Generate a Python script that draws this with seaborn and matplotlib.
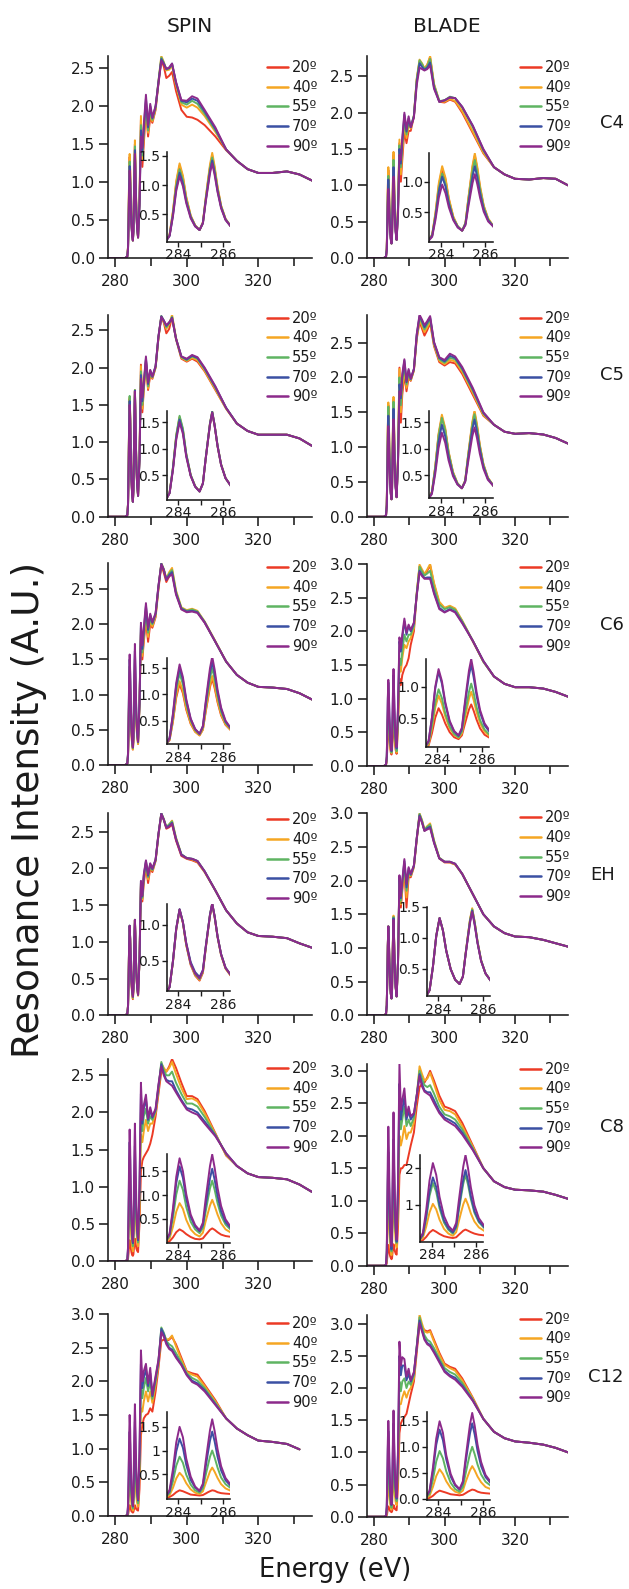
import pandas as pd
import matplotlib
matplotlib.use("Agg")
import matplotlib.pyplot as plt
from matplotlib.lines import Line2D
from matplotlib.ticker import FixedLocator, MultipleLocator, FormatStrFormatter
import seaborn as sns

sns.set_theme(style="ticks")
plt.rcParams["font.family"] = ["DejaVu Sans"]
plt.rcParams["axes.edgecolor"] = "#1a1a1a"
plt.rcParams["text.color"] = "#1a1a1a"
plt.rcParams["xtick.color"] = "#1a1a1a"
plt.rcParams["ytick.color"] = "#1a1a1a"

# ---------------------------------------------------------------- categories
ANGLES = ["20º", "40º", "55º", "70º", "90º"]
ANGLE_COLORS = ["#EC3A25", "#F5A623", "#5FB462", "#3B50A3", "#8C2A8B"]
COLUMNS = ["SPIN", "BLADE"]
SAMPLES = ["C4", "C5", "C6", "EH", "C8", "C12"]

# ---------------------------------------------------------------- energy axis (eV)
ENERGY_PRE = [278.0, 282.8]
ENERGY_PI = [283.4, 283.6, 283.75, 283.9, 284.05, 284.2, 284.35, 284.55, 284.75, 284.95,
             285.1, 285.22, 285.33, 285.42, 285.52, 285.63, 285.76, 285.92, 286.12, 286.4]
ENERGY_SIGMA = [286.8, 287.2, 287.6, 288.0, 288.6, 289.2, 289.8, 290.4, 291.3, 292.1,
                292.9, 293.6, 294.3, 295.1, 295.9, 297.0, 298.5, 300.0, 301.5, 303.0,
                305.0, 308.0, 311.0]
ENERGY_TAIL = [314.0, 317.0, 320.0, 324.0, 328.0, 331.5, 335.0]

# ---------------------------------------------------------------- spectra
# each row: intensity at one ENERGY_PI / ENERGY_SIGMA point for 20º, 40º, 55º, 70º, 90º
SPIN_C4 = [
    (0.02, 0.02, 0.02, 0.02, 0.02), (0.15, 0.15, 0.14, 0.13, 0.13),
    (0.53, 0.55, 0.51, 0.48, 0.46), (1.04, 1.07, 0.99, 0.94, 0.90),
    (1.33, 1.37, 1.27, 1.21, 1.15), (1.13, 1.16, 1.08, 1.03, 0.98),
    (0.78, 0.80, 0.75, 0.72, 0.69), (0.47, 0.48, 0.46, 0.45, 0.43),
    (0.31, 0.31, 0.30, 0.30, 0.29), (0.23, 0.23, 0.23, 0.23, 0.23),
    (0.36, 0.36, 0.35, 0.35, 0.34), (0.74, 0.76, 0.73, 0.71, 0.69),
    (1.06, 1.09, 1.04, 1.00, 0.97), (1.31, 1.35, 1.28, 1.24, 1.20),
    (1.50, 1.55, 1.47, 1.42, 1.37), (1.28, 1.32, 1.25, 1.21, 1.17),
    (0.95, 0.97, 0.93, 0.90, 0.88), (0.64, 0.65, 0.63, 0.62, 0.60),
    (0.42, 0.42, 0.41, 0.41, 0.40), (0.27, 0.27, 0.27, 0.27, 0.27),
    (0.75, 0.78, 0.72, 0.70, 0.68), (1.82, 1.87, 1.75, 1.68, 1.60),
    (1.20, 1.30, 1.35, 1.40, 1.45), (1.50, 1.60, 1.65, 1.70, 1.75),
    (1.95, 2.00, 2.05, 2.10, 2.15), (1.60, 1.65, 1.68, 1.72, 1.75),
    (1.85, 1.90, 1.95, 2.00, 2.03), (1.78, 1.80, 1.82, 1.84, 1.85),
    (1.95, 1.97, 1.98, 2.00, 2.00), (2.30, 2.33, 2.32, 2.32, 2.30),
    (2.60, 2.66, 2.64, 2.62, 2.60), (2.52, 2.58, 2.57, 2.56, 2.55),
    (2.37, 2.47, 2.48, 2.49, 2.49), (2.40, 2.48, 2.50, 2.50, 2.51),
    (2.45, 2.53, 2.55, 2.56, 2.56), (2.20, 2.28, 2.30, 2.31, 2.32),
    (1.95, 2.02, 2.05, 2.07, 2.08), (1.86, 1.98, 2.02, 2.05, 2.07),
    (1.85, 2.02, 2.07, 2.10, 2.13), (1.82, 1.98, 2.03, 2.07, 2.10),
    (1.75, 1.87, 1.90, 1.93, 1.95), (1.60, 1.66, 1.68, 1.70, 1.72),
    (1.42, 1.43, 1.43, 1.43, 1.43),
]
SPIN_C4_TAIL = [1.28, 1.17, 1.12, 1.12, 1.14, 1.10, 1.02]

BLADE_C4 = [
    (0.02, 0.02, 0.02, 0.02, 0.02), (0.13, 0.14, 0.12, 0.12, 0.10),
    (0.48, 0.50, 0.45, 0.43, 0.38), (0.94, 0.98, 0.88, 0.84, 0.74),
    (1.21, 1.25, 1.13, 1.08, 0.95), (1.03, 1.06, 0.96, 0.92, 0.81),
    (0.71, 0.73, 0.67, 0.64, 0.58), (0.42, 0.43, 0.40, 0.39, 0.37),
    (0.27, 0.27, 0.27, 0.26, 0.25), (0.20, 0.20, 0.20, 0.20, 0.20),
    (0.32, 0.33, 0.32, 0.31, 0.29), (0.69, 0.70, 0.66, 0.62, 0.57),
    (0.99, 1.02, 0.95, 0.88, 0.80), (1.24, 1.27, 1.18, 1.09, 0.98),
    (1.42, 1.46, 1.35, 1.25, 1.12), (1.21, 1.24, 1.15, 1.07, 0.96),
    (0.89, 0.92, 0.86, 0.80, 0.73), (0.60, 0.61, 0.58, 0.55, 0.51),
    (0.39, 0.40, 0.38, 0.37, 0.35), (0.25, 0.25, 0.25, 0.25, 0.25),
    (0.70, 0.72, 0.68, 0.65, 0.60), (1.58, 1.63, 1.55, 1.50, 1.42),
    (1.05, 1.15, 1.25, 1.30, 1.35), (1.35, 1.45, 1.55, 1.60, 1.65),
    (1.75, 1.85, 1.92, 1.97, 2.00), (1.58, 1.65, 1.70, 1.74, 1.77),
    (1.75, 1.83, 1.88, 1.92, 1.95), (1.75, 1.78, 1.80, 1.80, 1.80),
    (1.95, 1.96, 1.96, 1.95, 1.93), (2.45, 2.47, 2.45, 2.42, 2.38),
    (2.70, 2.73, 2.72, 2.68, 2.62), (2.66, 2.68, 2.67, 2.63, 2.60),
    (2.60, 2.61, 2.60, 2.59, 2.58), (2.66, 2.66, 2.64, 2.62, 2.60),
    (2.76, 2.78, 2.74, 2.69, 2.65), (2.38, 2.40, 2.38, 2.35, 2.33),
    (2.15, 2.16, 2.16, 2.15, 2.15), (2.14, 2.15, 2.17, 2.17, 2.17),
    (2.18, 2.19, 2.22, 2.21, 2.21), (2.15, 2.16, 2.20, 2.20, 2.20),
    (2.00, 2.02, 2.07, 2.08, 2.08), (1.72, 1.74, 1.80, 1.82, 1.82),
    (1.44, 1.45, 1.48, 1.49, 1.50),
]
BLADE_C4_TAIL = [1.25, 1.15, 1.09, 1.08, 1.10, 1.09, 1.00]

SPIN_C5 = [
    (0.02, 0.02, 0.02, 0.02, 0.02), (0.17, 0.18, 0.18, 0.17, 0.17),
    (0.63, 0.64, 0.65, 0.62, 0.60), (1.23, 1.25, 1.26, 1.21, 1.17),
    (1.58, 1.60, 1.62, 1.55, 1.50), (1.34, 1.36, 1.38, 1.32, 1.28),
    (0.89, 0.90, 0.91, 0.88, 0.85), (0.50, 0.51, 0.51, 0.50, 0.49),
    (0.30, 0.30, 0.30, 0.29, 0.29), (0.20, 0.20, 0.20, 0.20, 0.20),
    (0.35, 0.35, 0.35, 0.35, 0.35), (0.79, 0.80, 0.80, 0.80, 0.79),
    (1.16, 1.18, 1.18, 1.17, 1.16), (1.46, 1.48, 1.48, 1.47, 1.46),
    (1.68, 1.70, 1.70, 1.69, 1.68), (1.43, 1.44, 1.44, 1.44, 1.43),
    (1.05, 1.06, 1.06, 1.06, 1.05), (0.70, 0.71, 0.71, 0.70, 0.70),
    (0.45, 0.45, 0.45, 0.45, 0.45), (0.28, 0.28, 0.28, 0.28, 0.28),
    (0.80, 0.80, 0.78, 0.77, 0.75), (2.04, 2.02, 1.95, 1.90, 1.85),
    (1.40, 1.45, 1.50, 1.55, 1.60), (1.70, 1.72, 1.75, 1.78, 1.80),
    (2.05, 2.08, 2.10, 2.12, 2.15), (1.70, 1.72, 1.75, 1.78, 1.80),
    (1.90, 1.92, 1.95, 1.96, 1.97), (1.85, 1.86, 1.87, 1.88, 1.88),
    (2.00, 2.00, 2.01, 2.02, 2.02), (2.40, 2.40, 2.41, 2.42, 2.42),
    (2.68, 2.69, 2.69, 2.69, 2.68), (2.60, 2.62, 2.63, 2.63, 2.63),
    (2.46, 2.52, 2.54, 2.56, 2.57), (2.52, 2.58, 2.60, 2.60, 2.61),
    (2.68, 2.71, 2.68, 2.67, 2.66), (2.38, 2.40, 2.39, 2.39, 2.39),
    (2.12, 2.13, 2.14, 2.15, 2.15), (2.08, 2.09, 2.10, 2.11, 2.12),
    (2.12, 2.13, 2.15, 2.16, 2.17), (2.08, 2.10, 2.12, 2.13, 2.14),
    (1.95, 1.96, 1.98, 1.99, 2.00), (1.70, 1.71, 1.73, 1.74, 1.75),
    (1.45, 1.45, 1.46, 1.46, 1.46),
]
SPIN_C5_TAIL = [1.25, 1.15, 1.10, 1.10, 1.10, 1.05, 0.95]

BLADE_C5 = [
    (0.02, 0.02, 0.02, 0.02, 0.02), (0.18, 0.18, 0.17, 0.16, 0.14),
    (0.64, 0.66, 0.63, 0.58, 0.52), (1.25, 1.28, 1.23, 1.13, 1.01),
    (1.60, 1.64, 1.58, 1.45, 1.30), (1.36, 1.39, 1.34, 1.23, 1.11),
    (0.93, 0.95, 0.92, 0.85, 0.78), (0.55, 0.56, 0.54, 0.51, 0.48),
    (0.34, 0.35, 0.34, 0.33, 0.32), (0.25, 0.25, 0.25, 0.25, 0.25),
    (0.39, 0.40, 0.39, 0.38, 0.37), (0.82, 0.84, 0.81, 0.77, 0.71),
    (1.18, 1.21, 1.16, 1.10, 1.00), (1.47, 1.50, 1.44, 1.36, 1.23),
    (1.68, 1.72, 1.65, 1.55, 1.40), (1.43, 1.46, 1.40, 1.32, 1.20),
    (1.05, 1.07, 1.03, 0.98, 0.90), (0.70, 0.71, 0.69, 0.66, 0.62),
    (0.45, 0.45, 0.44, 0.43, 0.41), (0.28, 0.28, 0.28, 0.28, 0.28),
    (0.85, 0.85, 0.83, 0.80, 0.78), (2.14, 2.12, 2.00, 1.90, 1.80),
    (1.35, 1.50, 1.60, 1.70, 1.75), (1.75, 1.85, 1.95, 2.00, 2.05),
    (2.05, 2.12, 2.18, 2.24, 2.26), (1.80, 1.85, 1.90, 1.93, 1.95),
    (2.00, 2.05, 2.08, 2.10, 2.12), (1.95, 1.96, 1.97, 1.98, 1.98),
    (2.10, 2.10, 2.11, 2.12, 2.12), (2.55, 2.57, 2.59, 2.61, 2.62),
    (2.80, 2.83, 2.86, 2.88, 2.90), (2.70, 2.74, 2.78, 2.81, 2.83),
    (2.60, 2.65, 2.69, 2.72, 2.75), (2.68, 2.72, 2.76, 2.79, 2.81),
    (2.78, 2.81, 2.84, 2.86, 2.88), (2.45, 2.47, 2.49, 2.50, 2.51),
    (2.22, 2.24, 2.26, 2.28, 2.29), (2.17, 2.19, 2.21, 2.23, 2.25),
    (2.22, 2.25, 2.28, 2.31, 2.34), (2.20, 2.23, 2.26, 2.28, 2.30),
    (2.05, 2.08, 2.11, 2.13, 2.15), (1.75, 1.78, 1.81, 1.83, 1.85),
    (1.45, 1.46, 1.48, 1.49, 1.50),
]
BLADE_C5_TAIL = [1.32, 1.22, 1.19, 1.20, 1.18, 1.13, 1.05]

SPIN_C6 = [
    (0.02, 0.02, 0.02, 0.02, 0.02), (0.13, 0.14, 0.15, 0.17, 0.17),
    (0.48, 0.50, 0.56, 0.60, 0.63), (0.94, 0.98, 1.09, 1.17, 1.22),
    (1.20, 1.25, 1.40, 1.50, 1.57), (1.02, 1.06, 1.19, 1.28, 1.33),
    (0.71, 0.74, 0.82, 0.88, 0.91), (0.44, 0.45, 0.50, 0.53, 0.54),
    (0.29, 0.29, 0.32, 0.34, 0.34), (0.22, 0.22, 0.24, 0.25, 0.25),
    (0.33, 0.33, 0.37, 0.39, 0.40), (0.65, 0.67, 0.74, 0.80, 0.84),
    (0.92, 0.95, 1.06, 1.14, 1.21), (1.14, 1.18, 1.31, 1.41, 1.50),
    (1.30, 1.35, 1.50, 1.62, 1.72), (1.12, 1.16, 1.29, 1.39, 1.47),
    (0.85, 0.88, 0.97, 1.04, 1.09), (0.60, 0.62, 0.67, 0.72, 0.75),
    (0.42, 0.43, 0.46, 0.48, 0.50), (0.30, 0.30, 0.32, 0.33, 0.33),
    (0.85, 0.85, 0.86, 0.87, 0.88), (1.85, 1.88, 1.95, 1.98, 2.02),
    (1.50, 1.55, 1.60, 1.65, 1.70), (1.75, 1.80, 1.85, 1.90, 1.95),
    (2.05, 2.12, 2.20, 2.26, 2.30), (1.75, 1.82, 1.88, 1.92, 1.95),
    (2.00, 2.05, 2.10, 2.13, 2.15), (1.95, 1.97, 2.00, 2.02, 2.03),
    (2.10, 2.12, 2.14, 2.15, 2.16), (2.50, 2.52, 2.53, 2.54, 2.55),
    (2.84, 2.87, 2.86, 2.86, 2.85), (2.73, 2.78, 2.78, 2.77, 2.77),
    (2.60, 2.65, 2.64, 2.63, 2.63), (2.68, 2.74, 2.72, 2.70, 2.68),
    (2.75, 2.80, 2.77, 2.74, 2.71), (2.45, 2.48, 2.46, 2.44, 2.42),
    (2.22, 2.24, 2.23, 2.22, 2.21), (2.18, 2.20, 2.19, 2.18, 2.17),
    (2.20, 2.22, 2.21, 2.19, 2.18), (2.17, 2.19, 2.18, 2.17, 2.16),
    (2.03, 2.04, 2.03, 2.03, 2.02), (1.75, 1.76, 1.75, 1.75, 1.75),
    (1.47, 1.47, 1.47, 1.47, 1.47),
]
SPIN_C6_TAIL = [1.28, 1.17, 1.11, 1.10, 1.08, 1.02, 0.93]

BLADE_C6 = [
    (0.02, 0.02, 0.02, 0.02, 0.02), (0.07, 0.09, 0.11, 0.14, 0.14),
    (0.26, 0.34, 0.38, 0.50, 0.51), (0.51, 0.67, 0.75, 0.97, 1.00),
    (0.66, 0.86, 0.96, 1.24, 1.28), (0.56, 0.73, 0.82, 1.05, 1.09),
    (0.42, 0.53, 0.58, 0.73, 0.76), (0.28, 0.34, 0.37, 0.44, 0.46),
    (0.20, 0.24, 0.25, 0.29, 0.30), (0.17, 0.19, 0.20, 0.22, 0.23),
    (0.23, 0.26, 0.29, 0.33, 0.35), (0.39, 0.48, 0.54, 0.67, 0.71),
    (0.53, 0.66, 0.75, 0.95, 1.02), (0.64, 0.81, 0.92, 1.18, 1.26),
    (0.72, 0.92, 1.05, 1.35, 1.44), (0.62, 0.79, 0.90, 1.15, 1.23),
    (0.48, 0.60, 0.68, 0.86, 0.92), (0.34, 0.42, 0.47, 0.59, 0.63),
    (0.24, 0.29, 0.32, 0.39, 0.42), (0.18, 0.20, 0.22, 0.26, 0.28),
    (0.60, 0.70, 0.75, 0.85, 0.90), (1.30, 1.50, 1.60, 1.85, 1.91),
    (1.20, 1.40, 1.50, 1.70, 1.75), (1.35, 1.60, 1.70, 1.90, 1.95),
    (1.45, 1.80, 1.95, 2.15, 2.19), (1.50, 1.75, 1.85, 1.95, 1.98),
    (1.60, 1.85, 1.95, 2.08, 2.10), (1.80, 1.90, 1.95, 2.00, 2.02),
    (2.00, 2.05, 2.08, 2.12, 2.13), (2.55, 2.57, 2.56, 2.54, 2.53),
    (2.96, 2.99, 2.96, 2.90, 2.88), (2.90, 2.92, 2.89, 2.84, 2.82),
    (2.83, 2.85, 2.83, 2.79, 2.78), (2.90, 2.92, 2.86, 2.80, 2.78),
    (2.98, 3.00, 2.90, 2.80, 2.78), (2.70, 2.72, 2.65, 2.58, 2.56),
    (2.42, 2.44, 2.40, 2.35, 2.33), (2.34, 2.35, 2.33, 2.29, 2.28),
    (2.37, 2.38, 2.36, 2.33, 2.32), (2.33, 2.34, 2.32, 2.29, 2.28),
    (2.15, 2.16, 2.15, 2.13, 2.12), (1.85, 1.86, 1.86, 1.86, 1.86),
    (1.55, 1.55, 1.55, 1.56, 1.56),
]
BLADE_C6_TAIL = [1.33, 1.22, 1.17, 1.17, 1.15, 1.10, 1.03]

SPIN_EH = [
    (0.02, 0.02, 0.02, 0.02, 0.02), (0.13, 0.13, 0.13, 0.13, 0.13),
    (0.48, 0.48, 0.49, 0.49, 0.49), (0.94, 0.94, 0.95, 0.95, 0.95),
    (1.21, 1.21, 1.22, 1.22, 1.22), (1.03, 1.03, 1.04, 1.04, 1.04),
    (0.72, 0.72, 0.73, 0.75, 0.74), (0.44, 0.45, 0.46, 0.48, 0.46),
    (0.29, 0.30, 0.31, 0.34, 0.32), (0.22, 0.23, 0.24, 0.27, 0.25),
    (0.33, 0.34, 0.35, 0.37, 0.36), (0.65, 0.66, 0.66, 0.68, 0.67),
    (0.92, 0.93, 0.93, 0.94, 0.93), (1.13, 1.14, 1.14, 1.15, 1.14),
    (1.29, 1.30, 1.30, 1.30, 1.30), (1.11, 1.11, 1.12, 1.12, 1.12),
    (0.83, 0.84, 0.84, 0.84, 0.84), (0.58, 0.58, 0.59, 0.59, 0.59),
    (0.39, 0.39, 0.40, 0.40, 0.40), (0.27, 0.27, 0.28, 0.28, 0.28),
    (0.75, 0.75, 0.75, 0.75, 0.75), (1.75, 1.78, 1.80, 1.82, 1.83),
    (1.55, 1.58, 1.60, 1.62, 1.63), (1.80, 1.85, 1.88, 1.90, 1.92),
    (2.02, 2.05, 2.08, 2.10, 2.11), (1.80, 1.85, 1.88, 1.90, 1.92),
    (2.00, 2.03, 2.05, 2.06, 2.07), (1.95, 1.97, 1.98, 1.99, 2.00),
    (2.10, 2.11, 2.11, 2.12, 2.12), (2.45, 2.46, 2.46, 2.47, 2.47),
    (2.74, 2.75, 2.75, 2.75, 2.74), (2.66, 2.67, 2.67, 2.66, 2.66),
    (2.54, 2.56, 2.56, 2.56, 2.55), (2.56, 2.60, 2.60, 2.58, 2.57),
    (2.60, 2.65, 2.64, 2.62, 2.61), (2.38, 2.42, 2.41, 2.40, 2.39),
    (2.17, 2.19, 2.19, 2.19, 2.18), (2.13, 2.14, 2.14, 2.14, 2.14),
    (2.11, 2.12, 2.13, 2.13, 2.13), (2.08, 2.09, 2.10, 2.10, 2.10),
    (1.95, 1.95, 1.96, 1.96, 1.96), (1.70, 1.70, 1.70, 1.70, 1.70),
    (1.43, 1.43, 1.43, 1.43, 1.43),
]
SPIN_EH_TAIL = [1.25, 1.13, 1.08, 1.07, 1.05, 0.98, 0.92]

BLADE_EH = [
    (0.02, 0.02, 0.02, 0.02, 0.02), (0.15, 0.15, 0.15, 0.15, 0.15),
    (0.53, 0.53, 0.53, 0.53, 0.53), (1.03, 1.03, 1.03, 1.03, 1.03),
    (1.32, 1.32, 1.32, 1.32, 1.32), (1.12, 1.12, 1.12, 1.12, 1.12),
    (0.79, 0.79, 0.79, 0.79, 0.79), (0.49, 0.49, 0.49, 0.49, 0.49),
    (0.32, 0.32, 0.32, 0.32, 0.32), (0.25, 0.25, 0.25, 0.25, 0.25),
    (0.37, 0.37, 0.37, 0.37, 0.37), (0.73, 0.74, 0.73, 0.73, 0.72),
    (1.04, 1.05, 1.04, 1.02, 1.01), (1.28, 1.30, 1.28, 1.26, 1.24),
    (1.46, 1.48, 1.46, 1.44, 1.42), (1.25, 1.26, 1.25, 1.23, 1.21),
    (0.93, 0.94, 0.93, 0.92, 0.91), (0.63, 0.64, 0.63, 0.63, 0.62),
    (0.42, 0.42, 0.42, 0.42, 0.42), (0.28, 0.28, 0.28, 0.28, 0.28),
    (0.80, 0.80, 0.80, 0.80, 0.80), (1.98, 2.00, 2.03, 2.06, 2.08),
    (1.60, 1.65, 1.70, 1.74, 1.77), (1.85, 1.90, 1.95, 1.98, 2.00),
    (2.15, 2.20, 2.25, 2.29, 2.32), (1.60, 1.75, 1.85, 1.90, 1.95),
    (2.05, 2.10, 2.14, 2.18, 2.20), (2.05, 2.07, 2.08, 2.09, 2.10),
    (2.20, 2.21, 2.22, 2.22, 2.23), (2.60, 2.62, 2.62, 2.63, 2.63),
    (2.98, 3.00, 2.99, 2.97, 2.95), (2.88, 2.90, 2.89, 2.87, 2.86),
    (2.74, 2.76, 2.75, 2.74, 2.74), (2.78, 2.81, 2.80, 2.78, 2.76),
    (2.82, 2.85, 2.83, 2.80, 2.78), (2.58, 2.60, 2.59, 2.57, 2.56),
    (2.33, 2.34, 2.34, 2.33, 2.33), (2.27, 2.28, 2.28, 2.28, 2.28),
    (2.27, 2.27, 2.28, 2.28, 2.28), (2.24, 2.24, 2.25, 2.25, 2.25),
    (2.10, 2.10, 2.10, 2.10, 2.10), (1.80, 1.80, 1.80, 1.80, 1.80),
    (1.50, 1.50, 1.50, 1.50, 1.50),
]
BLADE_EH_TAIL = [1.32, 1.22, 1.17, 1.16, 1.12, 1.07, 1.02]

SPIN_C8 = [
    (0.01, 0.01, 0.01, 0.01, 0.01), (0.03, 0.09, 0.14, 0.18, 0.19),
    (0.11, 0.33, 0.52, 0.64, 0.71), (0.22, 0.65, 1.01, 1.25, 1.38),
    (0.28, 0.83, 1.30, 1.60, 1.77), (0.24, 0.71, 1.11, 1.36, 1.50),
    (0.18, 0.48, 0.75, 0.92, 1.02), (0.12, 0.28, 0.44, 0.54, 0.59),
    (0.08, 0.18, 0.28, 0.34, 0.37), (0.07, 0.13, 0.20, 0.24, 0.26),
    (0.09, 0.21, 0.31, 0.37, 0.42), (0.16, 0.44, 0.64, 0.76, 0.90),
    (0.22, 0.63, 0.92, 1.09, 1.29), (0.27, 0.78, 1.14, 1.35, 1.61),
    (0.30, 0.90, 1.30, 1.55, 1.85), (0.27, 0.77, 1.11, 1.32, 1.57),
    (0.22, 0.59, 0.83, 0.98, 1.15), (0.17, 0.41, 0.57, 0.66, 0.77),
    (0.14, 0.28, 0.38, 0.43, 0.49), (0.12, 0.20, 0.25, 0.28, 0.30),
    (0.50, 0.70, 0.85, 0.95, 1.00), (1.20, 1.70, 2.00, 2.25, 2.40),
    (1.35, 1.60, 1.75, 1.85, 1.90), (1.40, 1.75, 1.95, 2.05, 2.10),
    (1.45, 1.90, 2.05, 2.18, 2.24), (1.50, 1.75, 1.85, 1.90, 1.92),
    (1.58, 1.85, 1.95, 2.03, 2.07), (1.70, 1.85, 1.90, 1.93, 1.95),
    (1.95, 2.00, 2.02, 2.04, 2.05), (2.25, 2.30, 2.33, 2.35, 2.38),
    (2.55, 2.66, 2.68, 2.65, 2.62), (2.58, 2.60, 2.57, 2.52, 2.50),
    (2.55, 2.55, 2.50, 2.44, 2.42), (2.62, 2.60, 2.50, 2.42, 2.39),
    (2.72, 2.68, 2.55, 2.42, 2.36), (2.60, 2.52, 2.40, 2.30, 2.27),
    (2.40, 2.33, 2.25, 2.17, 2.15), (2.22, 2.18, 2.12, 2.06, 2.04),
    (2.22, 2.19, 2.12, 2.04, 2.00), (2.18, 2.15, 2.08, 2.00, 1.97),
    (2.02, 1.99, 1.94, 1.88, 1.85), (1.72, 1.71, 1.70, 1.69, 1.68),
    (1.42, 1.43, 1.44, 1.45, 1.45),
]
SPIN_C8_TAIL = [1.28, 1.18, 1.13, 1.12, 1.10, 1.03, 0.93]

BLADE_C8 = [
    (0.01, 0.01, 0.01, 0.01, 0.01), (0.04, 0.11, 0.18, 0.19, 0.24),
    (0.13, 0.41, 0.64, 0.70, 0.86), (0.25, 0.80, 1.25, 1.37, 1.67),
    (0.32, 1.03, 1.60, 1.75, 2.14), (0.27, 0.88, 1.36, 1.49, 1.82),
    (0.21, 0.60, 0.91, 1.00, 1.22), (0.15, 0.35, 0.52, 0.58, 0.70),
    (0.12, 0.22, 0.32, 0.36, 0.43), (0.10, 0.16, 0.22, 0.25, 0.30),
    (0.12, 0.26, 0.38, 0.42, 0.51), (0.19, 0.56, 0.86, 0.93, 1.12),
    (0.25, 0.82, 1.26, 1.36, 1.64), (0.30, 1.02, 1.58, 1.70, 2.05),
    (0.33, 1.17, 1.82, 1.95, 2.36), (0.30, 1.01, 1.56, 1.67, 2.01),
    (0.26, 0.77, 1.16, 1.24, 1.48), (0.22, 0.55, 0.79, 0.84, 0.99),
    (0.19, 0.39, 0.53, 0.56, 0.64), (0.17, 0.28, 0.35, 0.37, 0.40),
    (0.60, 0.90, 1.10, 1.20, 1.30), (1.40, 2.00, 2.50, 2.80, 3.11),
    (1.50, 1.85, 2.10, 2.25, 2.40), (1.50, 1.95, 2.25, 2.40, 2.55),
    (1.55, 2.15, 2.45, 2.60, 2.73), (1.55, 1.95, 2.15, 2.25, 2.30),
    (1.70, 2.05, 2.25, 2.38, 2.45), (1.85, 2.05, 2.15, 2.25, 2.30),
    (2.05, 2.20, 2.28, 2.33, 2.35), (2.45, 2.60, 2.62, 2.62, 2.62),
    (2.75, 3.07, 3.00, 2.95, 2.92), (2.80, 2.95, 2.88, 2.80, 2.76),
    (2.82, 2.85, 2.78, 2.70, 2.68), (2.90, 2.88, 2.75, 2.67, 2.65),
    (3.00, 2.97, 2.78, 2.67, 2.62), (2.85, 2.80, 2.65, 2.55, 2.50),
    (2.62, 2.55, 2.45, 2.38, 2.35), (2.45, 2.40, 2.33, 2.28, 2.25),
    (2.42, 2.38, 2.30, 2.24, 2.20), (2.38, 2.33, 2.25, 2.19, 2.15),
    (2.20, 2.15, 2.10, 2.05, 2.02), (1.85, 1.83, 1.81, 1.79, 1.78),
    (1.50, 1.50, 1.50, 1.50, 1.50),
]
BLADE_C8_TAIL = [1.30, 1.21, 1.17, 1.16, 1.14, 1.09, 1.03]

SPIN_C12 = [
    (0.01, 0.01, 0.01, 0.01, 0.01), (0.02, 0.06, 0.10, 0.14, 0.17),
    (0.06, 0.21, 0.35, 0.50, 0.60), (0.12, 0.41, 0.68, 0.98, 1.17),
    (0.16, 0.53, 0.87, 1.25, 1.50), (0.14, 0.45, 0.74, 1.06, 1.28),
    (0.11, 0.31, 0.49, 0.70, 0.83), (0.07, 0.18, 0.28, 0.38, 0.45),
    (0.06, 0.11, 0.16, 0.22, 0.24), (0.05, 0.08, 0.11, 0.14, 0.15),
    (0.06, 0.14, 0.20, 0.27, 0.30), (0.09, 0.30, 0.47, 0.64, 0.75),
    (0.12, 0.44, 0.69, 0.96, 1.13), (0.14, 0.56, 0.87, 1.21, 1.43),
    (0.16, 0.64, 1.00, 1.40, 1.66), (0.15, 0.55, 0.85, 1.19, 1.41),
    (0.12, 0.42, 0.64, 0.87, 1.03), (0.10, 0.29, 0.43, 0.58, 0.67),
    (0.09, 0.20, 0.29, 0.37, 0.42), (0.08, 0.14, 0.19, 0.23, 0.25),
    (0.40, 0.60, 0.75, 0.88, 0.95), (1.20, 1.60, 1.95, 2.25, 2.46),
    (1.35, 1.55, 1.75, 1.90, 2.00), (1.45, 1.70, 1.90, 2.05, 2.15),
    (1.50, 1.85, 2.05, 2.18, 2.26), (1.52, 1.70, 1.85, 1.93, 1.97),
    (1.60, 1.85, 2.00, 2.12, 2.20), (1.55, 1.68, 1.74, 1.78, 1.80),
    (1.85, 1.95, 2.00, 2.05, 2.08), (2.20, 2.25, 2.28, 2.30, 2.32),
    (2.60, 2.72, 2.80, 2.78, 2.73), (2.62, 2.70, 2.72, 2.70, 2.66),
    (2.60, 2.62, 2.60, 2.58, 2.55), (2.62, 2.63, 2.55, 2.50, 2.48),
    (2.66, 2.68, 2.52, 2.47, 2.45), (2.55, 2.52, 2.42, 2.37, 2.35),
    (2.35, 2.32, 2.28, 2.25, 2.24), (2.15, 2.14, 2.12, 2.10, 2.09),
    (2.12, 2.10, 2.05, 2.01, 1.99), (2.10, 2.07, 2.01, 1.97, 1.95),
    (1.95, 1.93, 1.90, 1.87, 1.85), (1.72, 1.70, 1.68, 1.66, 1.65),
    (1.45, 1.45, 1.45, 1.45, 1.45),
]
SPIN_C12_TAIL = [1.30, 1.20, 1.12, 1.10, 1.07, 0.99, float("nan")]

BLADE_C12 = [
    (0.01, 0.01, 0.01, 0.01, 0.01), (0.02, 0.06, 0.10, 0.15, 0.16),
    (0.06, 0.23, 0.37, 0.53, 0.60), (0.12, 0.44, 0.72, 1.04, 1.16),
    (0.16, 0.57, 0.92, 1.33, 1.49), (0.14, 0.48, 0.78, 1.13, 1.27),
    (0.12, 0.34, 0.53, 0.76, 0.84), (0.09, 0.21, 0.31, 0.43, 0.48),
    (0.08, 0.14, 0.19, 0.26, 0.28), (0.07, 0.11, 0.14, 0.18, 0.19),
    (0.08, 0.16, 0.23, 0.31, 0.34), (0.11, 0.32, 0.48, 0.69, 0.77),
    (0.14, 0.45, 0.70, 1.01, 1.14), (0.16, 0.55, 0.87, 1.26, 1.43),
    (0.18, 0.63, 1.00, 1.45, 1.65), (0.17, 0.55, 0.86, 1.24, 1.41),
    (0.14, 0.43, 0.66, 0.92, 1.04), (0.12, 0.32, 0.47, 0.63, 0.71),
    (0.11, 0.23, 0.33, 0.42, 0.46), (0.10, 0.18, 0.24, 0.28, 0.30),
    (0.50, 0.70, 0.85, 0.98, 1.05), (1.30, 1.75, 2.10, 2.50, 2.72),
    (1.45, 1.75, 1.95, 2.20, 2.35), (1.50, 1.85, 2.10, 2.35, 2.48),
    (1.55, 1.95, 2.15, 2.35, 2.45), (1.60, 1.85, 2.00, 2.12, 2.18),
    (1.75, 1.95, 2.10, 2.22, 2.30), (1.90, 2.00, 2.05, 2.10, 2.12),
    (2.10, 2.15, 2.20, 2.23, 2.25), (2.55, 2.62, 2.65, 2.64, 2.62),
    (3.00, 3.14, 3.10, 3.05, 3.01), (2.95, 3.00, 2.95, 2.90, 2.88),
    (2.90, 2.88, 2.82, 2.77, 2.75), (2.88, 2.86, 2.75, 2.70, 2.68),
    (2.90, 2.88, 2.72, 2.67, 2.65), (2.75, 2.72, 2.62, 2.57, 2.55),
    (2.55, 2.52, 2.46, 2.42, 2.40), (2.38, 2.36, 2.31, 2.27, 2.25),
    (2.33, 2.31, 2.25, 2.20, 2.18), (2.30, 2.27, 2.21, 2.16, 2.13),
    (2.15, 2.12, 2.08, 2.04, 2.02), (1.85, 1.84, 1.82, 1.81, 1.80),
    (1.52, 1.52, 1.52, 1.52, 1.52),
]
BLADE_C12_TAIL = [1.32, 1.22, 1.17, 1.15, 1.12, 1.07, 1.00]

SPECTRA = {
    ("SPIN", "C4"): (SPIN_C4, SPIN_C4_TAIL), ("BLADE", "C4"): (BLADE_C4, BLADE_C4_TAIL),
    ("SPIN", "C5"): (SPIN_C5, SPIN_C5_TAIL), ("BLADE", "C5"): (BLADE_C5, BLADE_C5_TAIL),
    ("SPIN", "C6"): (SPIN_C6, SPIN_C6_TAIL), ("BLADE", "C6"): (BLADE_C6, BLADE_C6_TAIL),
    ("SPIN", "EH"): (SPIN_EH, SPIN_EH_TAIL), ("BLADE", "EH"): (BLADE_EH, BLADE_EH_TAIL),
    ("SPIN", "C8"): (SPIN_C8, SPIN_C8_TAIL), ("BLADE", "C8"): (BLADE_C8, BLADE_C8_TAIL),
    ("SPIN", "C12"): (SPIN_C12, SPIN_C12_TAIL), ("BLADE", "C12"): (BLADE_C12, BLADE_C12_TAIL),
}

# ---------------------------------------------------------------- axis ranges
Y_TOP = {
    ("SPIN", "C4"): 2.66, ("BLADE", "C4"): 2.78,
    ("SPIN", "C5"): 2.71, ("BLADE", "C5"): 2.90,
    ("SPIN", "C6"): 2.87, ("BLADE", "C6"): 3.00,
    ("SPIN", "EH"): 2.75, ("BLADE", "EH"): 3.00,
    ("SPIN", "C8"): 2.72, ("BLADE", "C8"): 3.11,
    ("SPIN", "C12"): 3.00, ("BLADE", "C12"): 3.14,
}
INSET_YLIM = {
    ("SPIN", "C4"): (0.03, 1.57), ("BLADE", "C4"): (0.02, 1.46),
    ("SPIN", "C5"): (0.04, 1.71), ("BLADE", "C5"): (0.06, 1.71),
    ("SPIN", "C6"): (0.05, 1.70), ("BLADE", "C6"): (0.05, 1.44),
    ("SPIN", "EH"): (0.07, 1.30), ("BLADE", "EH"): (0.05, 1.50),
    ("SPIN", "C8"): (0.00, 1.86), ("BLADE", "C8"): (0.00, 2.36),
    ("SPIN", "C12"): (-0.03, 1.82), ("BLADE", "C12"): (-0.02, 1.66),
}
INSET_YTICKS = {
    ("SPIN", "C4"): ["0.5", "1.0", "1.5"], ("BLADE", "C4"): ["0.5", "1.0"],
    ("SPIN", "C5"): ["0.5", "1.0", "1.5"], ("BLADE", "C5"): ["0.5", "1.0", "1.5"],
    ("SPIN", "C6"): ["0.5", "1.0", "1.5"], ("BLADE", "C6"): ["0.5", "1.0"],
    ("SPIN", "EH"): ["0.5", "1.0"], ("BLADE", "EH"): ["0.5", "1.0", "1.5"],
    ("SPIN", "C8"): ["0.5", "1.0", "1.5"], ("BLADE", "C8"): ["1", "2"],
    ("SPIN", "C12"): ["0.5", "1", "1.5"], ("BLADE", "C12"): ["0.0", "0.5", "1.0", "1.5"],
}

# ---------------------------------------------------------------- layout (pixels)
W_PX, H_PX = 629, 1589
AX_LEFT = {"SPIN": 108.0, "BLADE": 367.0}
AX_WIDTH = {"SPIN": 204.0, "BLADE": 201.0}
AX_HEIGHT = 202.0
AX_BOTTOM = {"SPIN": [258.0, 516.7, 765.0, 1015.3, 1261.0, 1516.0],
             "BLADE": [258.0, 516.7, 766.0, 1015.3, 1265.7, 1516.7]}
INSET_W = 63.5
INSET_LEFT = {"SPIN": [58.7, 58.7, 58.7, 58.7, 58.7, 58.7],
              "BLADE": [62.3, 62.0, 58.7, 59.7, 53.0, 59.7]}
INSET_BOTTOM = {"SPIN": [16.3, 16.7, 20.7, 24.0, 18.3, 16.7],
                "BLADE": [16.3, 18.4, 19.3, 19.0, 24.0, 16.7]}
INSET_H = {"SPIN": [90.0, 89.0, 86.7, 87.7, 88.7, 87.6],
           "BLADE": [88.4, 87.3, 87.7, 89.3, 86.7, 87.6]}
LEGEND_X = {"SPIN": 0.778, "BLADE": 0.760}
LEGEND_ROW1 = {"SPIN": [190, 198, 197, 195, 192, 192],
               "BLADE": [190, 198, 198, 197, 196, 197]}
SAMPLE_LABEL_XY = {"C4": (612, 123), "C5": (612, 375), "C6": (612, 625),
                   "EH": (603, 875), "C8": (612, 1127), "C12": (606, 1377)}

fig = plt.figure(figsize=(W_PX / 100, H_PX / 100), dpi=100)


def spectra_frame(rows, tail):
    energy = ENERGY_PRE + ENERGY_PI + ENERGY_SIGMA + ENERGY_TAIL
    parts = []
    for k, angle in enumerate(ANGLES):
        inten = [0.0, 0.0] + [r[k] for r in rows] + list(tail)
        parts.append(pd.DataFrame({"energy": energy, "intensity": inten, "angle": angle}))
    return pd.concat(parts, ignore_index=True).dropna()


def draw_lines(df, ax, lw):
    sns.lineplot(data=df, x="energy", y="intensity", hue="angle", hue_order=ANGLES,
                 palette=ANGLE_COLORS, estimator=None, sort=False, linewidth=lw,
                 legend=False, ax=ax)
    ax.set_xlabel("")
    ax.set_ylabel("")
    ax.patch.set_alpha(0)
    sns.despine(ax=ax)
    for s in ("left", "bottom"):
        ax.spines[s].set_linewidth(1.15)


legend_handles = [Line2D([], [], color=c, lw=1.8) for c in ANGLE_COLORS]

for col in COLUMNS:
    for i, sample in enumerate(SAMPLES):
        key = (col, sample)
        rows, tail = SPECTRA[key]
        df = spectra_frame(rows, tail)

        left, width, bottom = AX_LEFT[col], AX_WIDTH[col], AX_BOTTOM[col][i]
        ax = fig.add_axes([left / W_PX, 1 - bottom / H_PX, width / W_PX, AX_HEIGHT / H_PX])
        draw_lines(df, ax, 1.4)
        ax.set_xlim(278, 335)
        ax.set_ylim(0, Y_TOP[key])
        ax.xaxis.set_major_locator(FixedLocator([280, 300, 320]))
        ax.xaxis.set_minor_locator(FixedLocator([290, 310, 330]))
        ax.yaxis.set_major_locator(MultipleLocator(0.5))
        ax.yaxis.set_major_formatter(FormatStrFormatter("%.1f"))
        ax.tick_params(which="both", direction="out", length=6.5, width=1.15, labelsize=11)
        ax.tick_params(axis="x", which="minor", length=5.5)
        ax.tick_params(axis="x", pad=5)
        ax.tick_params(axis="y", pad=3)

        ax.legend(legend_handles, ANGLES, loc="upper left",
                  bbox_to_anchor=(LEGEND_X[col], (LEGEND_ROW1[col][i] + 8) / AX_HEIGHT),
                  frameon=False, fontsize=10.5, handlelength=1.45, handletextpad=0.3,
                  labelspacing=0.32, borderpad=0, borderaxespad=0)

        # zoom on the two lowest resonances
        ins = ax.inset_axes([INSET_LEFT[col][i] / width, INSET_BOTTOM[col][i] / AX_HEIGHT,
                             INSET_W / width, INSET_H[col][i] / AX_HEIGHT])
        draw_lines(df, ins, 1.4)
        ins.set_xlim(283.47, 286.33)
        ins.set_ylim(*INSET_YLIM[key])
        ins.xaxis.set_major_locator(FixedLocator([284, 286]))
        ins.xaxis.set_minor_locator(FixedLocator([285]))
        labels = INSET_YTICKS[key]
        ins.set_yticks([float(t) for t in labels], labels=labels)
        ins.tick_params(which="both", direction="out", length=3.5, width=1.0, labelsize=10, pad=1)

for col, x in (("SPIN", 190), ("BLADE", 446.7)):
    fig.text(x / W_PX, 1 - 26 / H_PX, col, ha="center", va="center", fontsize=14.5)
for sample, (x, y) in SAMPLE_LABEL_XY.items():
    fig.text(x / W_PX, 1 - y / H_PX, sample, ha="center", va="center", fontsize=13)
fig.text(29 / W_PX, 1 - 810 / H_PX, "Resonance Intensity (A.U.)", rotation=90,
         ha="center", va="center", fontsize=27)
fig.text(335 / W_PX, 1 - 1570 / H_PX, "Energy (eV)", ha="center", va="center", fontsize=18.5)

fig.savefig("out.png", dpi=100)
